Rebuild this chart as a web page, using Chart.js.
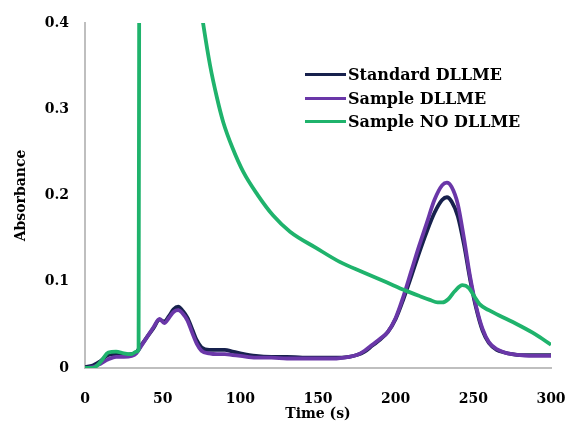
<!DOCTYPE html>
<html>
<head>
<meta charset="utf-8">
<script src="https://cdn.jsdelivr.net/npm/chart.js@4.4.1/dist/chart.umd.min.js"></script>
<style>
  html, body { margin: 0; padding: 0; background: #fff; }
  #wrap { position: relative; width: 571px; height: 428px; }
  #legend { position: absolute; left: 305px; top: 63px; font: bold 16px "DejaVu Serif", serif; color: #000; }
  #legend .row { display: flex; align-items: center; height: 23.5px; white-space: nowrap; }
  #legend .swatch { width: 41px; height: 3px; margin-right: 2px; }
</style>
</head>
<body>
<div id="wrap">
  <canvas id="absChart" width="571" height="428"></canvas>
  <div id="legend"></div>
</div>
<script>
// series labels + colours
const seriesLabels = ['Standard DLLME', 'Sample DLLME', 'Sample NO DLLME'];
const seriesColors = ['#17214d', '#6a37a8', '#1fb36c'];

// time axis (s) for the two DLLME traces
const timeDllme = [0, 5, 10, 15, 20, 25, 30, 33, 36, 40, 44, 48, 51, 54, 57, 60, 63, 66, 69, 72, 75, 80, 85, 90, 95, 100,
  110, 120, 130, 140, 150, 160, 170, 175, 180, 185, 190, 195, 200, 205, 210, 215, 220, 225, 230, 233, 236, 240,
  244, 248, 252, 256, 260, 265, 270, 275, 280, 290, 300];

const standardDllme = [0.001, 0.003, 0.008, 0.015, 0.016, 0.015, 0.016, 0.018, 0.026, 0.036, 0.046, 0.056, 0.054, 0.06, 0.068, 0.071, 0.066, 0.058, 0.045, 0.032, 0.024, 0.021, 0.021, 0.021, 0.019, 0.017,
  0.014, 0.013, 0.013, 0.012, 0.012, 0.012, 0.013, 0.015, 0.019, 0.026, 0.033, 0.042, 0.057, 0.08, 0.106, 0.133, 0.158, 0.18, 0.195, 0.198, 0.193, 0.176,
  0.143, 0.102, 0.068, 0.043, 0.029, 0.021, 0.018, 0.016, 0.015, 0.015, 0.015];

const sampleDllme = [0, 0.001, 0.005, 0.01, 0.013, 0.013, 0.014, 0.017, 0.025, 0.036, 0.047, 0.057, 0.052, 0.058, 0.065, 0.067, 0.063, 0.055, 0.041, 0.028, 0.02, 0.017, 0.016, 0.016, 0.015, 0.014,
  0.012, 0.012, 0.011, 0.011, 0.011, 0.011, 0.013, 0.015, 0.02, 0.027, 0.034, 0.042, 0.058, 0.083, 0.112, 0.141, 0.168, 0.195, 0.212, 0.215, 0.21, 0.19,
  0.15, 0.105, 0.07, 0.045, 0.03, 0.022, 0.018, 0.016, 0.015, 0.014, 0.014];

// green trace goes off the top between ~35 s and ~76 s (null = gap)
const timeNoDllme = [0, 5, 10, 15, 20, 25, 30, 33, 34.5, 35, 55, 74, 76, 80.5, 85, 89, 95, 102, 111, 121, 132, 149, 164,
  179, 194.5, 206, 216, 222, 227, 230, 234, 238, 243, 247, 251, 254, 260, 270, 280, 290, 300];
const sampleNoDllme = [0, 0, 0.007, 0.018, 0.019, 0.017, 0.016, 0.019, 0.021, 0.6, null, 0.425, 0.4, 0.351, 0.313, 0.285, 0.255, 0.227, 0.201, 0.177, 0.158, 0.139, 0.123,
  0.111, 0.099, 0.09, 0.083, 0.079, 0.076, 0.076, 0.08, 0.089, 0.096, 0.093, 0.082, 0.074, 0.067, 0.058, 0.049, 0.039, 0.027];

// axis ticks
const xTicks = [0, 50, 100, 150, 200, 250, 300];
const yTicks = [0, 0.1, 0.2, 0.3, 0.4];

function toPoints(xs, ys) {
  return xs.map((x, i) => ({ x: x, y: ys[i] }));
}

const tickFont = { family: 'DejaVu Serif', weight: 'bold', size: 14 };

const ctx = document.getElementById('absChart');

new Chart(ctx, {
  type: 'line',
  data: {
    datasets: [
      { label: seriesLabels[0], data: toPoints(timeDllme, standardDllme), borderColor: seriesColors[0], order: 2 },
      { label: seriesLabels[1], data: toPoints(timeDllme, sampleDllme), borderColor: seriesColors[1], order: 1 },
      { label: seriesLabels[2], data: toPoints(timeNoDllme, sampleNoDllme), borderColor: seriesColors[2], order: 0 }
    ]
  },
  options: {
    responsive: false,
    animation: false,
    layout: { padding: { top: 23, right: 20, left: 0, bottom: 0 } },
    elements: {
      point: { radius: 0 },
      line: { borderWidth: 3.8, cubicInterpolationMode: 'monotone', fill: false }
    },
    datasets: { line: { clip: 0, spanGaps: false } },
    plugins: { legend: { display: false }, tooltip: { enabled: false } },
    scales: {
      x: {
        type: 'linear',
        min: 0, max: 300,
        afterFit: (scale) => {
          scale.height = 60;
          scale.paddingLeft = 0;
          scale.paddingRight = 0;
        },
        afterBuildTicks: (scale) => { scale.ticks = xTicks.map(v => ({ value: v })); },
        grid: { display: false, drawTicks: false },
        border: { display: true, color: '#bfbfbf', width: 2 },
        ticks: { font: tickFont, color: '#000', padding: 23, maxRotation: 0 },
        title: { display: true, text: 'Time (s)', font: tickFont, color: '#000', padding: { top: 0, bottom: 5 } }
      },
      y: {
        min: 0, max: 0.4,
        afterFit: (scale) => {
          scale.width = 85;
          scale.paddingTop = 0;
          scale.paddingBottom = 0;
        },
        afterBuildTicks: (scale) => { scale.ticks = yTicks.map(v => ({ value: v })); },
        grid: { display: false, drawTicks: false },
        border: { display: true, color: '#bfbfbf', width: 2 },
        ticks: { font: tickFont, color: '#000', padding: 16 },
        title: { display: true, text: 'Absorbance', font: tickFont, color: '#000', padding: { top: 13, bottom: 0 } }
      }
    }
  }
});

// legend as html rows
const legend = document.getElementById('legend');
seriesLabels.forEach((name, i) => {
  const row = document.createElement('div');
  row.className = 'row';
  const sw = document.createElement('span');
  sw.className = 'swatch';
  sw.style.background = seriesColors[i];
  const txt = document.createElement('span');
  txt.textContent = name;
  row.appendChild(sw);
  row.appendChild(txt);
  legend.appendChild(row);
});
</script>
</body>
</html>
